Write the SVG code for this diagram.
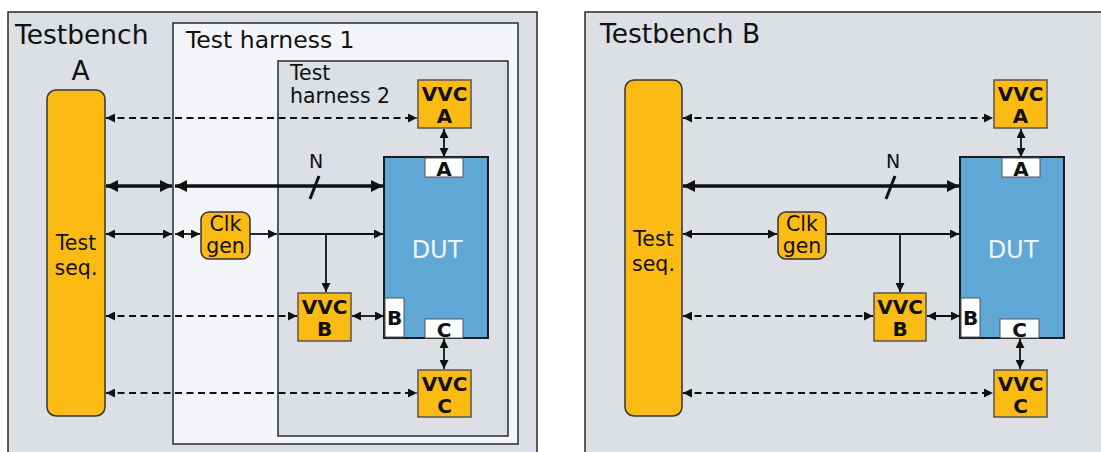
<svg xmlns="http://www.w3.org/2000/svg" width="1101" height="452" viewBox="0 0 1101 452">
<style>
.bench{fill:#dcdfe3;stroke:#2a2a2a;stroke-width:1.5}
.h1{fill:#f3f5f8;stroke:#2a2a2a;stroke-width:1.5}
.h2{fill:#dcdfe3;stroke:#2a2a2a;stroke-width:1.5}
.seq{fill:#fcbb12;stroke:#333;stroke-width:1.5}
.vvc{fill:#fcbb12;stroke:#555;stroke-width:1.5}
.dut{fill:#5fa8d6;stroke:#1a1a1a;stroke-width:2}
.port{fill:#ffffff;stroke:#555;stroke-width:1}
.t{font-family:"DejaVu Sans","Liberation Sans",sans-serif;fill:#111}
.b{font-family:"DejaVu Sans","Liberation Sans",sans-serif;font-weight:bold;fill:#111}
.c{text-anchor:middle}
.w{fill:#eef4fa}
.ln{fill:none;stroke:#111;stroke-width:1.8}
.dash{stroke-dasharray:7 4.5}
.both{marker-start:url(#ah);marker-end:url(#ah)}
.end{marker-end:url(#ah)}
.bus{fill:none;stroke:#111;stroke-width:3.5;marker-start:url(#ahb);marker-end:url(#ahb)}
</style>
<defs>
<marker id="ah" viewBox="0 0 10 10" refX="10" refY="5" markerUnits="userSpaceOnUse" markerWidth="10" markerHeight="9" orient="auto-start-reverse"><path d="M0,0 L10,5 L0,10 z" fill="#111"/></marker>
<marker id="ahb" viewBox="0 0 10 10" refX="10" refY="5" markerUnits="userSpaceOnUse" markerWidth="12" markerHeight="12" orient="auto-start-reverse"><path d="M0,0 L10,5 L0,10 z" fill="#111"/></marker>
</defs>

<!-- Testbench A -->
<g id="testbenchA">
<rect class="bench" x="8" y="12" width="529" height="450"/>
<text class="t" x="15" y="44" font-size="26.5">Testbench</text>
<text class="t c" x="80.5" y="80" font-size="26.5">A</text>
</g>
<g id="harness1">
<rect class="h1" x="173" y="23" width="345" height="421"/>
<text class="t" x="186" y="48" font-size="23.5">Test harness 1</text>
</g>
<g id="harness2">
<rect class="h2" x="278" y="61" width="230" height="375"/>
<text class="t" x="290" y="80" font-size="20.5">Test</text>
<text class="t" x="290" y="103" font-size="20.5">harness 2</text>
</g>
<g id="seqA">
<rect class="seq" x="47" y="90" width="58" height="326" rx="9"/>
<text class="t c" x="76" y="250" font-size="20.5">Test</text>
<text class="t c" x="76" y="275" font-size="20.5">seq.</text>
</g>
<g id="clkA">
<rect class="seq" x="201" y="212" width="49" height="47" rx="8"/>
<text class="t c" x="225.5" y="231" font-size="20.5">Clk</text>
<text class="t c" x="225.5" y="253" font-size="20.5">gen</text>
</g>
<g id="dutA">
<rect class="dut" x="384" y="157" width="104" height="181"/>
<text class="t c w" x="437" y="258" font-size="24">DUT</text>
<rect class="port" x="425" y="158" width="38" height="19"/>
<text class="b c" x="444" y="176" font-size="20">A</text>
<rect class="port" x="385" y="298" width="19" height="39"/>
<text class="b c" x="394.5" y="325" font-size="20">B</text>
<rect class="port" x="425" y="319" width="38" height="19"/>
<text class="b c" x="444" y="337" font-size="20">C</text>
</g>
<g id="vvcA_A">
<rect class="vvc" x="418" y="80" width="53" height="48"/>
<text class="b c" x="444.5" y="101" font-size="20">VVC</text>
<text class="b c" x="444.5" y="123" font-size="20">A</text>
</g>
<g id="vvcA_B">
<rect class="vvc" x="298" y="293" width="53" height="48"/>
<text class="b c" x="324.5" y="314" font-size="20">VVC</text>
<text class="b c" x="324.5" y="336" font-size="20">B</text>
</g>
<g id="vvcA_C">
<rect class="vvc" x="418" y="370" width="53" height="47"/>
<text class="b c" x="444.5" y="391" font-size="20">VVC</text>
<text class="b c" x="444.5" y="413" font-size="20">C</text>
</g>

<!-- Testbench B -->
<g id="testbenchB">
<rect class="bench" x="585" y="12" width="530" height="450"/>
<text class="t" x="600" y="43" font-size="26.5">Testbench B</text>
</g>
<g id="seqB">
<rect class="seq" x="625" y="80" width="57" height="336" rx="9"/>
<text class="t c" x="653.5" y="246" font-size="20.5">Test</text>
<text class="t c" x="653.5" y="271" font-size="20.5">seq.</text>
</g>
<g id="clkB">
<rect class="seq" x="778" y="212" width="48" height="47" rx="8"/>
<text class="t c" x="802" y="231" font-size="20.5">Clk</text>
<text class="t c" x="802" y="253" font-size="20.5">gen</text>
</g>
<g id="dutB">
<rect class="dut" x="960" y="157" width="104" height="181"/>
<text class="t c w" x="1013" y="258" font-size="24">DUT</text>
<rect class="port" x="1002" y="158" width="38" height="19"/>
<text class="b c" x="1021" y="176" font-size="20">A</text>
<rect class="port" x="961" y="298" width="19" height="39"/>
<text class="b c" x="970.5" y="325" font-size="20">B</text>
<rect class="port" x="1000" y="319" width="39" height="19"/>
<text class="b c" x="1019.5" y="337" font-size="20">C</text>
</g>
<g id="vvcB_A">
<rect class="vvc" x="994" y="80" width="53" height="48"/>
<text class="b c" x="1020.5" y="101" font-size="20">VVC</text>
<text class="b c" x="1020.5" y="123" font-size="20">A</text>
</g>
<g id="vvcB_B">
<rect class="vvc" x="874" y="293" width="52" height="48"/>
<text class="b c" x="900" y="314" font-size="20">VVC</text>
<text class="b c" x="900" y="336" font-size="20">B</text>
</g>
<g id="vvcB_C">
<rect class="vvc" x="994" y="370" width="53" height="47"/>
<text class="b c" x="1020.5" y="391" font-size="20">VVC</text>
<text class="b c" x="1020.5" y="413" font-size="20">C</text>
</g>

<g id="connectors">
<!-- A -->
<path class="ln dash both" d="M106,118 H417"/>
<path class="bus" d="M106,186 H172"/>
<path class="bus" d="M175,186 H383"/>
<path d="M310,199 L319,176" stroke="#111" stroke-width="3" fill="none"/>
<text class="t c" x="316" y="168" font-size="19">N</text>
<path class="ln both" d="M106,234 H172"/>
<path class="ln both" d="M175,234 H200"/>
<path class="ln end" d="M250,234 H277"/>
<path class="ln end" d="M279,234 H383"/>
<path class="ln end" d="M326,234 V292"/>
<path class="ln dash both" d="M106,316 H297"/>
<path class="ln both" d="M352,316 H384"/>
<path class="ln both" d="M444,129 V157"/>
<path class="ln both" d="M444,339 V369"/>
<path class="ln dash both" d="M106,393 H417"/>
<!-- B -->
<path class="ln dash both" d="M683,118 H993"/>
<path class="bus" d="M683,186 H959"/>
<path d="M886,199 L895,176" stroke="#111" stroke-width="3" fill="none"/>
<text class="t c" x="893" y="168" font-size="19">N</text>
<path class="ln both" d="M683,234 H777"/>
<path class="ln end" d="M827,234 H959"/>
<path class="ln end" d="M900,234 V292"/>
<path class="ln dash both" d="M683,316 H873"/>
<path class="ln both" d="M927,316 H960"/>
<path class="ln both" d="M1021,129 V157"/>
<path class="ln both" d="M1020,339 V369"/>
<path class="ln dash both" d="M683,393 H993"/>
</g>
</svg>
